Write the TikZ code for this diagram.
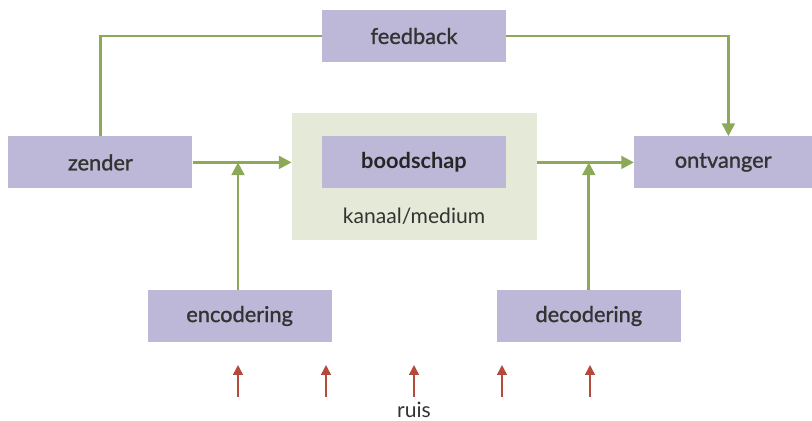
\documentclass[tikz,border=0pt]{standalone}
\usepackage{fontspec}
\setmainfont{Lato}
\newfontfamily\boxfont{Lato}[FakeBold=1.2]
\usepackage{tikz}
\usetikzlibrary{arrows.meta, positioning, calc}

\definecolor{boxpurple}{HTML}{BDB8D7}
\definecolor{kanaalgreen}{HTML}{E5EAD8}
\definecolor{linegreen}{HTML}{8CA957}
\definecolor{ruisred}{HTML}{B34A3C}
\definecolor{textgray}{HTML}{333333}

\tikzset{
	block/.style={fill=boxpurple, minimum width=4.6cm, minimum height=1.3cm, align=center, text=textgray, font=\fontsize{15.5}{18}\boxfont},
	flow/.style={draw=linegreen, line width=2pt, -{Triangle[width=9pt, length=9pt]}},
	plain/.style={draw=linegreen, line width=2pt},
	noise/.style={draw=ruisred, line width=1pt, -{Triangle[width=7pt, length=7pt]}}
}

\begin{document}
\begin{tikzpicture}
		\useasboundingbox (0,0) rectangle (20.3,10.5);
		\coordinate (fb)   at (10.35, 9.6);
		\coordinate (zen)  at (2.51, 6.44);
		\coordinate (bood) at (10.35, 6.44);
		\coordinate (ont)  at (18.08, 6.44);
		\coordinate (kan)  at (10.36, 6.09);
		\coordinate (enc)  at (5.99, 2.6);
		\coordinate (dec)  at (14.72, 2.6);

		\node[fill=kanaalgreen, minimum width=6.125cm, minimum height=3.175cm] (KAN) at (kan) {};
		\node[block] (FB) at (fb) {feedback};
		\node[block] (ZEN) at (zen) {zender};
		\node[block, font=\fontsize{15.5}{18}\selectfont\bfseries, text=black!85] (BOOD) at (bood) {boodschap};
		\node[block, minimum width=4.45cm] (ONT) at (ont) {ontvanger};
		\node[block] (ENC) at (enc) {encodering};
		\node[block] (DEC) at (dec) {decodering};
		\node[text=textgray, font=\fontsize{15}{18}\selectfont] (MED) at (10.35, 5.1) {kanaal/medium};
		\node[text=textgray, font=\fontsize{15}{18}\selectfont] (RUIS) at (10.35, 0.25) {ruis};

		\draw[plain] (ZEN.north) |- (FB.west);
		\draw[flow] (FB.east) -| ($(ONT.north)+(0.13,0)$);
		\draw[flow] (ZEN.east) -- (ZEN.east -| KAN.west);
		\draw[flow] (KAN.east |- BOOD.east) -- (ONT.west);
		\draw[flow] ($(ENC.north)+(-0.04,0)$) -- ($(ENC.north |- ZEN.east)+(-0.04,0)$);
		\draw[flow] (DEC.north) -- (DEC.north |- BOOD.east);

		\foreach \x [count=\i] in {5.95, 8.15, 10.35, 12.55, 14.75} {
			\coordinate (r\i a) at (\x, 0.575);
			\coordinate (r\i b) at (\x, 1.375);
			\draw[noise] (r\i a) -- (r\i b);
		}
	\end{tikzpicture}
\end{document}
